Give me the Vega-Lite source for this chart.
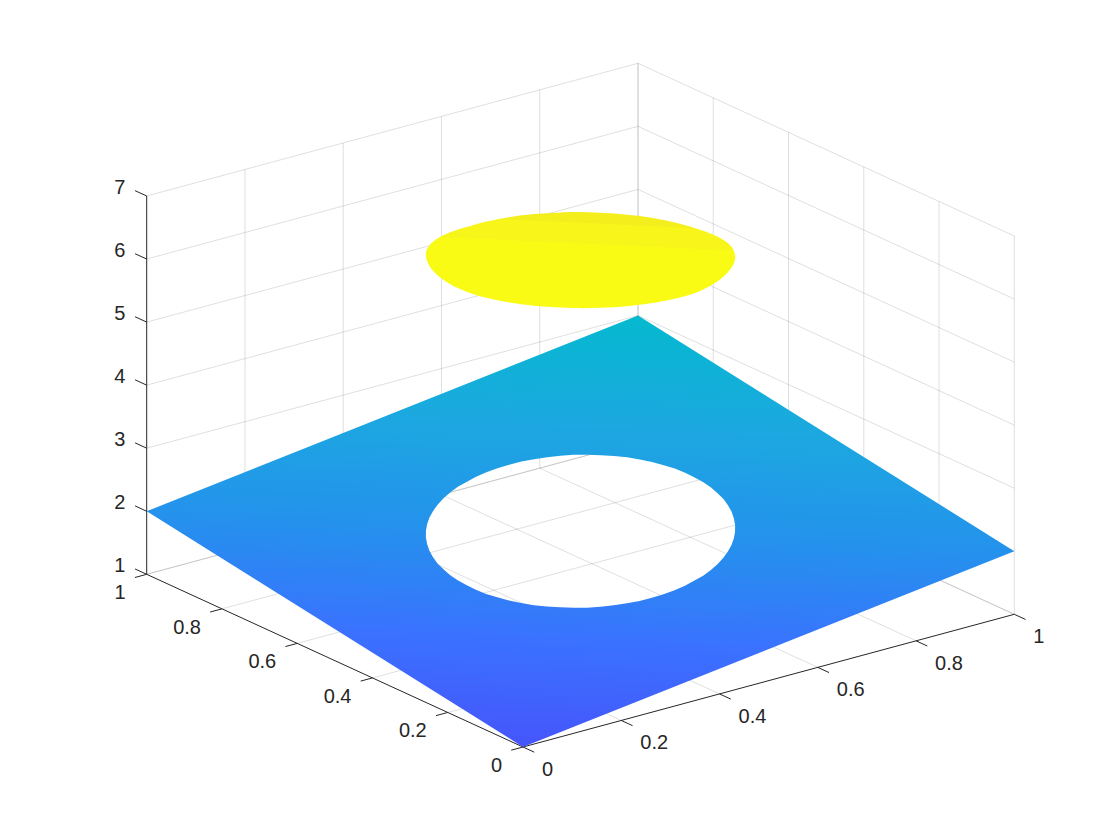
{"$schema":"https://vega.github.io/schema/vega-lite/v6.json","width":1120,"height":840,"padding":0,"autosize":{"type":"fit","contains":"padding"},"background":"white","config":{"view":{"stroke":null}},
"data":{"values":[
{"part":"grid","line":"a1","x":0,"y":1,"z":1},{"part":"grid","line":"a1","x":1,"y":1,"z":1},
{"part":"grid","line":"a2","x":0,"y":1,"z":2},{"part":"grid","line":"a2","x":1,"y":1,"z":2},
{"part":"grid","line":"a3","x":0,"y":1,"z":3},{"part":"grid","line":"a3","x":1,"y":1,"z":3},
{"part":"grid","line":"a4","x":0,"y":1,"z":4},{"part":"grid","line":"a4","x":1,"y":1,"z":4},
{"part":"grid","line":"a5","x":0,"y":1,"z":5},{"part":"grid","line":"a5","x":1,"y":1,"z":5},
{"part":"grid","line":"a6","x":0,"y":1,"z":6},{"part":"grid","line":"a6","x":1,"y":1,"z":6},
{"part":"grid","line":"a7","x":0,"y":1,"z":7},{"part":"grid","line":"a7","x":1,"y":1,"z":7},
{"part":"grid","line":"b2","x":0.2,"y":1,"z":1},{"part":"grid","line":"b2","x":0.2,"y":1,"z":7},
{"part":"grid","line":"b4","x":0.4,"y":1,"z":1},{"part":"grid","line":"b4","x":0.4,"y":1,"z":7},
{"part":"grid","line":"b6","x":0.6,"y":1,"z":1},{"part":"grid","line":"b6","x":0.6,"y":1,"z":7},
{"part":"grid","line":"b8","x":0.8,"y":1,"z":1},{"part":"grid","line":"b8","x":0.8,"y":1,"z":7},
{"part":"grid","line":"b10","x":1,"y":1,"z":1},{"part":"grid","line":"b10","x":1,"y":1,"z":7},
{"part":"grid","line":"c1","x":1,"y":0,"z":1},{"part":"grid","line":"c1","x":1,"y":1,"z":1},
{"part":"grid","line":"c2","x":1,"y":0,"z":2},{"part":"grid","line":"c2","x":1,"y":1,"z":2},
{"part":"grid","line":"c3","x":1,"y":0,"z":3},{"part":"grid","line":"c3","x":1,"y":1,"z":3},
{"part":"grid","line":"c4","x":1,"y":0,"z":4},{"part":"grid","line":"c4","x":1,"y":1,"z":4},
{"part":"grid","line":"c5","x":1,"y":0,"z":5},{"part":"grid","line":"c5","x":1,"y":1,"z":5},
{"part":"grid","line":"c6","x":1,"y":0,"z":6},{"part":"grid","line":"c6","x":1,"y":1,"z":6},
{"part":"grid","line":"c7","x":1,"y":0,"z":7},{"part":"grid","line":"c7","x":1,"y":1,"z":7},
{"part":"grid","line":"d0","x":1,"y":0,"z":1},{"part":"grid","line":"d0","x":1,"y":0,"z":7},
{"part":"grid","line":"d2","x":1,"y":0.2,"z":1},{"part":"grid","line":"d2","x":1,"y":0.2,"z":7},
{"part":"grid","line":"d4","x":1,"y":0.4,"z":1},{"part":"grid","line":"d4","x":1,"y":0.4,"z":7},
{"part":"grid","line":"d6","x":1,"y":0.6,"z":1},{"part":"grid","line":"d6","x":1,"y":0.6,"z":7},
{"part":"grid","line":"d8","x":1,"y":0.8,"z":1},{"part":"grid","line":"d8","x":1,"y":0.8,"z":7},
{"part":"grid","line":"d10","x":1,"y":1,"z":1},{"part":"grid","line":"d10","x":1,"y":1,"z":7},
{"part":"grid","line":"e2","x":0.2,"y":0,"z":1},{"part":"grid","line":"e2","x":0.2,"y":1,"z":1},
{"part":"grid","line":"e4","x":0.4,"y":0,"z":1},{"part":"grid","line":"e4","x":0.4,"y":1,"z":1},
{"part":"grid","line":"e6","x":0.6,"y":0,"z":1},{"part":"grid","line":"e6","x":0.6,"y":1,"z":1},
{"part":"grid","line":"e8","x":0.8,"y":0,"z":1},{"part":"grid","line":"e8","x":0.8,"y":1,"z":1},
{"part":"grid","line":"e10","x":1,"y":0,"z":1},{"part":"grid","line":"e10","x":1,"y":1,"z":1},
{"part":"grid","line":"f2","x":0,"y":0.2,"z":1},{"part":"grid","line":"f2","x":1,"y":0.2,"z":1},
{"part":"grid","line":"f4","x":0,"y":0.4,"z":1},{"part":"grid","line":"f4","x":1,"y":0.4,"z":1},
{"part":"grid","line":"f6","x":0,"y":0.6,"z":1},{"part":"grid","line":"f6","x":1,"y":0.6,"z":1},
{"part":"grid","line":"f8","x":0,"y":0.8,"z":1},{"part":"grid","line":"f8","x":1,"y":0.8,"z":1},
{"part":"grid","line":"f10","x":0,"y":1,"z":1},{"part":"grid","line":"f10","x":1,"y":1,"z":1},

{"part":"axis","line":"X","x":0,"y":0,"z":1},{"part":"axis","line":"X","x":1,"y":0,"z":1},
{"part":"axis","line":"Y","x":0,"y":0,"z":1},{"part":"axis","line":"Y","x":0,"y":1,"z":1},
{"part":"axis","line":"Z","x":0,"y":1,"z":1},{"part":"axis","line":"Z","x":0,"y":1,"z":7},
{"part":"axis","line":"tx0","x":0,"y":0,"z":1},{"part":"axis","line":"tx0","x":0,"y":-0.03,"z":1},
{"part":"axis","line":"tx2","x":0.2,"y":0,"z":1},{"part":"axis","line":"tx2","x":0.2,"y":-0.03,"z":1},
{"part":"axis","line":"tx4","x":0.4,"y":0,"z":1},{"part":"axis","line":"tx4","x":0.4,"y":-0.03,"z":1},
{"part":"axis","line":"tx6","x":0.6,"y":0,"z":1},{"part":"axis","line":"tx6","x":0.6,"y":-0.03,"z":1},
{"part":"axis","line":"tx8","x":0.8,"y":0,"z":1},{"part":"axis","line":"tx8","x":0.8,"y":-0.03,"z":1},
{"part":"axis","line":"tx10","x":1,"y":0,"z":1},{"part":"axis","line":"tx10","x":1,"y":-0.03,"z":1},
{"part":"axis","line":"ty0","x":0,"y":0,"z":1},{"part":"axis","line":"ty0","x":-0.024,"y":0,"z":1},
{"part":"axis","line":"ty2","x":0,"y":0.2,"z":1},{"part":"axis","line":"ty2","x":-0.024,"y":0.2,"z":1},
{"part":"axis","line":"ty4","x":0,"y":0.4,"z":1},{"part":"axis","line":"ty4","x":-0.024,"y":0.4,"z":1},
{"part":"axis","line":"ty6","x":0,"y":0.6,"z":1},{"part":"axis","line":"ty6","x":-0.024,"y":0.6,"z":1},
{"part":"axis","line":"ty8","x":0,"y":0.8,"z":1},{"part":"axis","line":"ty8","x":-0.024,"y":0.8,"z":1},
{"part":"axis","line":"ty10","x":0,"y":1,"z":1},{"part":"axis","line":"ty10","x":-0.024,"y":1,"z":1},
{"part":"axis","line":"tz1","x":0,"y":1,"z":1},{"part":"axis","line":"tz1","x":0,"y":1.031,"z":1},
{"part":"axis","line":"tz2","x":0,"y":1,"z":2},{"part":"axis","line":"tz2","x":0,"y":1.031,"z":2},
{"part":"axis","line":"tz3","x":0,"y":1,"z":3},{"part":"axis","line":"tz3","x":0,"y":1.031,"z":3},
{"part":"axis","line":"tz4","x":0,"y":1,"z":4},{"part":"axis","line":"tz4","x":0,"y":1.031,"z":4},
{"part":"axis","line":"tz5","x":0,"y":1,"z":5},{"part":"axis","line":"tz5","x":0,"y":1.031,"z":5},
{"part":"axis","line":"tz6","x":0,"y":1,"z":6},{"part":"axis","line":"tz6","x":0,"y":1.031,"z":6},
{"part":"axis","line":"tz7","x":0,"y":1,"z":7},{"part":"axis","line":"tz7","x":0,"y":1.031,"z":7},

{"part":"xlabel","x":0,"y":0,"z":1,"label":"0"},{"part":"xlabel","x":0.2,"y":0,"z":1,"label":"0.2"},{"part":"xlabel","x":0.4,"y":0,"z":1,"label":"0.4"},{"part":"xlabel","x":0.6,"y":0,"z":1,"label":"0.6"},{"part":"xlabel","x":0.8,"y":0,"z":1,"label":"0.8"},{"part":"xlabel","x":1,"y":0,"z":1,"label":"1"},
{"part":"ylabel","x":0,"y":0,"z":1,"label":"0"},{"part":"ylabel","x":0,"y":0.2,"z":1,"label":"0.2"},{"part":"ylabel","x":0,"y":0.4,"z":1,"label":"0.4"},{"part":"ylabel","x":0,"y":0.6,"z":1,"label":"0.6"},{"part":"ylabel","x":0,"y":0.8,"z":1,"label":"0.8"},{"part":"ylabel","x":0,"y":1,"z":1,"label":"1"},
{"part":"zlabel","x":0,"y":1,"z":1,"label":"1"},{"part":"zlabel","x":0,"y":1,"z":2,"label":"2"},{"part":"zlabel","x":0,"y":1,"z":3,"label":"3"},{"part":"zlabel","x":0,"y":1,"z":4,"label":"4"},{"part":"zlabel","x":0,"y":1,"z":5,"label":"5"},{"part":"zlabel","x":0,"y":1,"z":6,"label":"6"},{"part":"zlabel","x":0,"y":1,"z":7,"label":"7"},

{"part":"plane","i":1,"x":1,"y":0,"z":2},{"part":"plane","i":2,"x":1,"y":1,"z":3},{"part":"plane","i":3,"x":0,"y":1,"z":2},{"part":"plane","i":4,"x":0,"y":0,"z":1},{"part":"plane","i":5,"x":1,"y":0,"z":2},
{"part":"plane","i":6,"x":0.6915,"y":0.3393,"z":2.03},{"part":"plane","i":7,"x":0.6607,"y":0.3085,"z":1.97},{"part":"plane","i":8,"x":0.625,"y":0.2835,"z":1.91},{"part":"plane","i":9,"x":0.5855,"y":0.2651,"z":1.85},{"part":"plane","i":10,"x":0.5434,"y":0.2538,"z":1.80},{"part":"plane","i":11,"x":0.5,"y":0.25,"z":1.75},{"part":"plane","i":12,"x":0.4566,"y":0.2538,"z":1.71},{"part":"plane","i":13,"x":0.4145,"y":0.2651,"z":1.68},{"part":"plane","i":14,"x":0.375,"y":0.2835,"z":1.66},{"part":"plane","i":15,"x":0.3393,"y":0.3085,"z":1.65},{"part":"plane","i":16,"x":0.3085,"y":0.3393,"z":1.65},{"part":"plane","i":17,"x":0.2835,"y":0.375,"z":1.66},{"part":"plane","i":18,"x":0.2651,"y":0.4145,"z":1.68},{"part":"plane","i":19,"x":0.2538,"y":0.4566,"z":1.71},{"part":"plane","i":20,"x":0.25,"y":0.5,"z":1.75},{"part":"plane","i":21,"x":0.2538,"y":0.5434,"z":1.80},{"part":"plane","i":22,"x":0.2651,"y":0.5855,"z":1.85},{"part":"plane","i":23,"x":0.2835,"y":0.625,"z":1.91},{"part":"plane","i":24,"x":0.3085,"y":0.6607,"z":1.97},{"part":"plane","i":25,"x":0.3393,"y":0.6915,"z":2.03},{"part":"plane","i":26,"x":0.375,"y":0.7165,"z":2.09},{"part":"plane","i":27,"x":0.4145,"y":0.7349,"z":2.15},{"part":"plane","i":28,"x":0.4566,"y":0.7462,"z":2.20},{"part":"plane","i":29,"x":0.5,"y":0.75,"z":2.25},{"part":"plane","i":30,"x":0.5434,"y":0.7462,"z":2.29},{"part":"plane","i":31,"x":0.5855,"y":0.7349,"z":2.32},{"part":"plane","i":32,"x":0.625,"y":0.7165,"z":2.34},{"part":"plane","i":33,"x":0.6607,"y":0.6915,"z":2.35},{"part":"plane","i":34,"x":0.6915,"y":0.6607,"z":2.35},{"part":"plane","i":35,"x":0.7165,"y":0.625,"z":2.34},{"part":"plane","i":36,"x":0.7349,"y":0.5855,"z":2.32},{"part":"plane","i":37,"x":0.7462,"y":0.5434,"z":2.29},{"part":"plane","i":38,"x":0.75,"y":0.5,"z":2.25},{"part":"plane","i":39,"x":0.7462,"y":0.4566,"z":2.20},{"part":"plane","i":40,"x":0.7349,"y":0.4145,"z":2.15},{"part":"plane","i":41,"x":0.7165,"y":0.375,"z":2.09},{"part":"plane","i":42,"x":0.6915,"y":0.3393,"z":2.03},
{"part":"plane","i":6.5,"x":0.6768,"y":0.3232,"z":2.00},{"part":"plane","i":7.5,"x":0.6434,"y":0.2952,"z":1.94},{"part":"plane","i":8.5,"x":0.6057,"y":0.2734,"z":1.88},{"part":"plane","i":9.5,"x":0.5647,"y":0.2585,"z":1.82},{"part":"plane","i":10.5,"x":0.5218,"y":0.251,"z":1.77},{"part":"plane","i":11.5,"x":0.4782,"y":0.251,"z":1.73},{"part":"plane","i":12.5,"x":0.4353,"y":0.2585,"z":1.69},{"part":"plane","i":13.5,"x":0.3943,"y":0.2734,"z":1.67},{"part":"plane","i":14.5,"x":0.3566,"y":0.2952,"z":1.65},{"part":"plane","i":15.5,"x":0.3232,"y":0.3232,"z":1.65},{"part":"plane","i":16.5,"x":0.2952,"y":0.3566,"z":1.65},{"part":"plane","i":17.5,"x":0.2734,"y":0.3943,"z":1.67},{"part":"plane","i":18.5,"x":0.2585,"y":0.4353,"z":1.69},{"part":"plane","i":19.5,"x":0.251,"y":0.4782,"z":1.73},{"part":"plane","i":20.5,"x":0.251,"y":0.5218,"z":1.77},{"part":"plane","i":21.5,"x":0.2585,"y":0.5647,"z":1.82},{"part":"plane","i":22.5,"x":0.2734,"y":0.6057,"z":1.88},{"part":"plane","i":23.5,"x":0.2952,"y":0.6434,"z":1.94},{"part":"plane","i":24.5,"x":0.3232,"y":0.6768,"z":2.00},{"part":"plane","i":25.5,"x":0.3566,"y":0.7048,"z":2.06},{"part":"plane","i":26.5,"x":0.3943,"y":0.7266,"z":2.12},{"part":"plane","i":27.5,"x":0.4353,"y":0.7415,"z":2.18},{"part":"plane","i":28.5,"x":0.4782,"y":0.749,"z":2.23},{"part":"plane","i":29.5,"x":0.5218,"y":0.749,"z":2.27},{"part":"plane","i":30.5,"x":0.5647,"y":0.7415,"z":2.31},{"part":"plane","i":31.5,"x":0.6057,"y":0.7266,"z":2.33},{"part":"plane","i":32.5,"x":0.6434,"y":0.7048,"z":2.35},{"part":"plane","i":33.5,"x":0.6768,"y":0.6768,"z":2.35},{"part":"plane","i":34.5,"x":0.7048,"y":0.6434,"z":2.35},{"part":"plane","i":35.5,"x":0.7266,"y":0.6057,"z":2.33},{"part":"plane","i":36.5,"x":0.7415,"y":0.5647,"z":2.31},{"part":"plane","i":37.5,"x":0.749,"y":0.5218,"z":2.27},{"part":"plane","i":38.5,"x":0.749,"y":0.4782,"z":2.23},{"part":"plane","i":39.5,"x":0.7415,"y":0.4353,"z":2.18},{"part":"plane","i":40.5,"x":0.7266,"y":0.3943,"z":2.12},{"part":"plane","i":41.5,"x":0.7048,"y":0.3566,"z":2.06},

{"part":"disk","i":1,"x":0.75,"y":0.5,"z":6.238},{"part":"disk","i":2,"x":0.7462,"y":0.5434,"z":6.216},{"part":"disk","i":3,"x":0.7349,"y":0.5855,"z":6.207},{"part":"disk","i":4,"x":0.7165,"y":0.625,"z":6.201},{"part":"disk","i":5,"x":0.6915,"y":0.6607,"z":6.198},{"part":"disk","i":6,"x":0.6607,"y":0.6915,"z":6.198},{"part":"disk","i":7,"x":0.625,"y":0.7165,"z":6.201},{"part":"disk","i":8,"x":0.5855,"y":0.7349,"z":6.207},{"part":"disk","i":9,"x":0.5434,"y":0.7462,"z":6.216},{"part":"disk","i":10,"x":0.5,"y":0.75,"z":6.228},{"part":"disk","i":11,"x":0.4566,"y":0.7462,"z":6.241},{"part":"disk","i":12,"x":0.4145,"y":0.7349,"z":6.277},{"part":"disk","i":13,"x":0.375,"y":0.7165,"z":6.313},{"part":"disk","i":14,"x":0.3393,"y":0.6915,"z":6.351},{"part":"disk","i":15,"x":0.3085,"y":0.6607,"z":6.379},{"part":"disk","i":16,"x":0.2835,"y":0.625,"z":6.397},{"part":"disk","i":17,"x":0.2651,"y":0.5855,"z":6.393},{"part":"disk","i":18,"x":0.2538,"y":0.5434,"z":6.389},{"part":"disk","i":19,"x":0.25,"y":0.5,"z":6.383},{"part":"disk","i":20,"x":0.2538,"y":0.4566,"z":6.384},{"part":"disk","i":21,"x":0.2651,"y":0.4145,"z":6.393},{"part":"disk","i":22,"x":0.2835,"y":0.375,"z":6.399},{"part":"disk","i":23,"x":0.3085,"y":0.3393,"z":6.402},{"part":"disk","i":24,"x":0.3393,"y":0.3085,"z":6.402},{"part":"disk","i":25,"x":0.375,"y":0.2835,"z":6.399},{"part":"disk","i":26,"x":0.4145,"y":0.2651,"z":6.393},{"part":"disk","i":27,"x":0.4566,"y":0.2538,"z":6.384},{"part":"disk","i":28,"x":0.5,"y":0.25,"z":6.373},{"part":"disk","i":29,"x":0.5434,"y":0.2538,"z":6.359},{"part":"disk","i":30,"x":0.5855,"y":0.2651,"z":6.363},{"part":"disk","i":31,"x":0.625,"y":0.2835,"z":6.367},{"part":"disk","i":32,"x":0.6607,"y":0.3085,"z":6.369},{"part":"disk","i":33,"x":0.6915,"y":0.3393,"z":6.351},{"part":"disk","i":34,"x":0.7165,"y":0.375,"z":6.333},{"part":"disk","i":35,"x":0.7349,"y":0.4145,"z":6.307},{"part":"disk","i":36,"x":0.7462,"y":0.4566,"z":6.271}
]},
"transform":[
{"calculate":"523 + 491.3*datum.x - 376.3*datum.y","as":"sx"},
{"calculate":"747 - 132.7*datum.x - 172.7*datum.y - 63.05*(datum.z-1)","as":"sy"}
],
"encoding":{
"x":{"field":"sx","type":"quantitative","scale":{"domain":[0,1120],"nice":false,"zero":false},"axis":null},
"y":{"field":"sy","type":"quantitative","scale":{"domain":[840,0],"nice":false,"zero":false},"axis":null}
},
"layer":[
{"transform":[{"filter":"datum.part==='grid'"}],"mark":{"type":"line","stroke":"#262626","strokeOpacity":0.15,"strokeWidth":1},"encoding":{"detail":{"field":"line"}}},
{"transform":[{"filter":"datum.part==='axis'"}],"mark":{"type":"line","stroke":"#262626","strokeWidth":1},"encoding":{"detail":{"field":"line"}}},
{"transform":[{"filter":"datum.part==='plane'"}],"mark":{"type":"line","stroke":null,"fill":{"gradient":"linear","x1":0.431,"y1":1,"x2":0.519,"y2":0,"stops":[{"offset":0,"color":"#4655FB"},{"offset":0.25,"color":"#3A72FF"},{"offset":0.5,"color":"#2492EC"},{"offset":0.75,"color":"#1CA8E0"},{"offset":1,"color":"#05B9CF"}]}},"encoding":{"order":{"field":"i","type":"quantitative"}}},
{"transform":[{"filter":"datum.part==='disk'"}],"mark":{"type":"line","interpolate":"cardinal-closed","stroke":null,"fill":{"gradient":"linear","x1":0.43,"y1":1,"x2":0.58,"y2":0,"stops":[{"offset":0,"color":"#F9FB15"},{"offset":0.665,"color":"#F9FB15"},{"offset":0.675,"color":"#F7F51A"},{"offset":0.875,"color":"#F7F51A"},{"offset":0.885,"color":"#F4EE1D"},{"offset":1,"color":"#F4EE1D"}]}},"encoding":{"order":{"field":"i","type":"quantitative"}}},
{"transform":[{"filter":"datum.part==='xlabel'"}],"mark":{"type":"text","align":"left","baseline":"middle","dx":19,"dy":23,"font":"Liberation Sans","fontSize":20,"color":"#262626"},"encoding":{"text":{"field":"label"}}},
{"transform":[{"filter":"datum.part==='ylabel'"}],"mark":{"type":"text","align":"right","baseline":"middle","dx":-21,"dy":19,"font":"Liberation Sans","fontSize":20,"color":"#262626"},"encoding":{"text":{"field":"label"}}},
{"transform":[{"filter":"datum.part==='zlabel'"}],"mark":{"type":"text","align":"center","baseline":"middle","dx":-27,"dy":-8,"font":"Liberation Sans","fontSize":20,"color":"#262626"},"encoding":{"text":{"field":"label"}}}
]}
